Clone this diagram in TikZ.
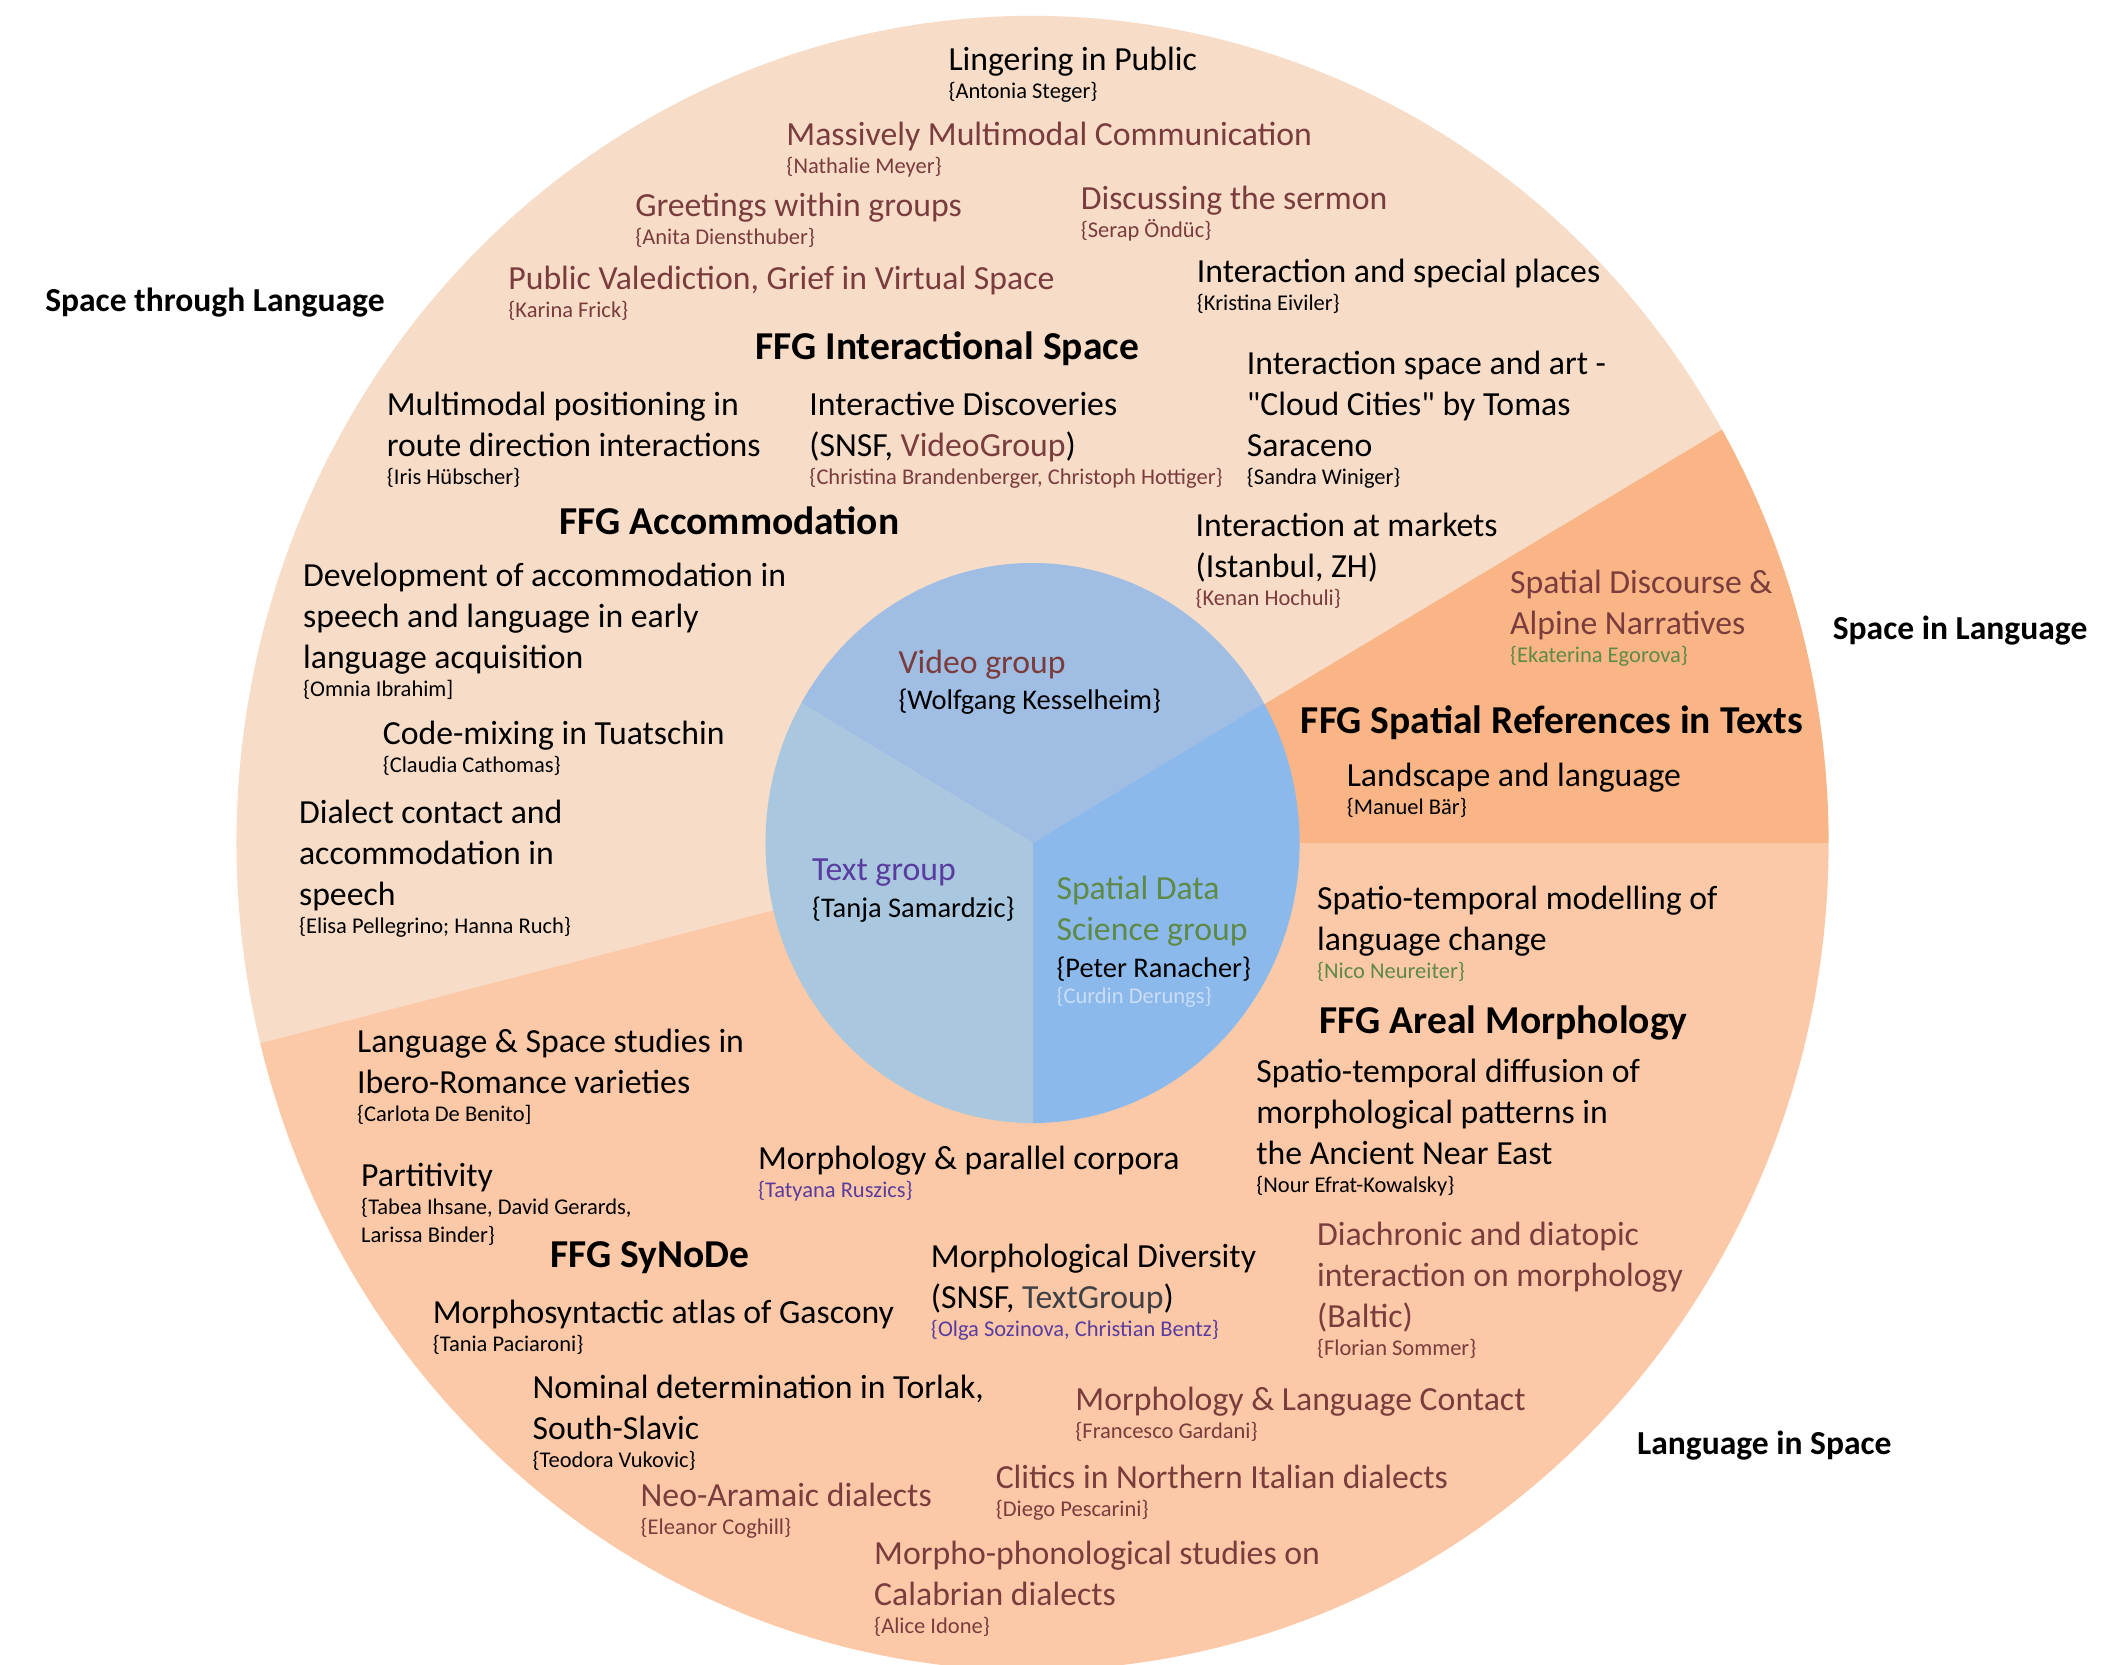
\documentclass[tikz,border=0pt]{standalone}
\usepackage{fontspec}
\setmainfont{Carlito}
\definecolor{ringL}{HTML}{F7DCC8}
\definecolor{ringM}{HTML}{FBC9A7}
\definecolor{ringD}{HTML}{F9B585}
\definecolor{pieV}{HTML}{A0BEE3}
\definecolor{pieT}{HTML}{A9C8DF}
\definecolor{pieS}{HTML}{8BB9EC}
\definecolor{redc}{HTML}{7A3C3C}
\definecolor{purplec}{HTML}{5A3CA0}
\definecolor{greenc}{HTML}{5E8A45}
\definecolor{lbluec}{HTML}{CADDF5}
\definecolor{grayc}{HTML}{3F3F46}
\newcommand\mainf{\fontsize{9.6pt}{11.67pt}\selectfont}
\newcommand\authf{\fontsize{6.4pt}{8pt}\selectfont}
\newcommand\grpf{\fontsize{8.1pt}{10pt}\selectfont}
\newcommand\headf{\fontsize{11.25pt}{13pt}\selectfont\bfseries}
\newcommand\lblf{\fontsize{9.55pt}{11.5pt}\selectfont\bfseries}
\newcommand\au[1]{\\[-3.7pt]{\authf #1}}
\begin{document}
\begin{tikzpicture}[x=0.0135cm,y=-0.0135cm,
  txt/.style={anchor=base west, align=left, inner sep=0pt, font=\mainf, text=black},
  rtxt/.style={txt, text=redc},
  hdr/.style={anchor=base west, inner sep=0pt, font=\headf, text=black},
  lbl/.style={anchor=base west, inner sep=0pt, font=\lblf, text=black}]
\useasboundingbox (0,0) rectangle (1568,1232.6);
\fill[white] (0,0) rectangle (1568,1232.6);
\clip (0,0) rectangle (1568,1232.6);
\coordinate (C) at (764.8,624.4);
% outer ring sectors
\fill[ringD] (C) -- ++(0:589.6 and 612.6) arc[start angle=0,end angle=-30,x radius=589.6,y radius=612.6] -- cycle;
\fill[ringL] (C) -- ++(-30:589.6 and 612.6) arc[start angle=-30,end angle=-194,x radius=589.6,y radius=612.6] -- cycle;
\fill[ringM] (C) -- ++(-194:589.6 and 612.6) arc[start angle=-194,end angle=-360,x radius=589.6,y radius=612.6] -- cycle;
% inner pie
\fill[pieV] (C) -- ++(-30:197.8 and 207.4) arc[start angle=-30,end angle=-150,x radius=197.8,y radius=207.4] -- cycle;
\fill[pieT] (C) -- ++(-150:197.8 and 207.4) arc[start angle=-150,end angle=-270,x radius=197.8,y radius=207.4] -- cycle;
\fill[pieS] (C) -- ++(-270:197.8 and 207.4) arc[start angle=-270,end angle=-390,x radius=197.8,y radius=207.4] -- cycle;

\node[lbl] (stl) at (33,230.5) {Space through Language};
\node[lbl] (sil) at (1357,474) {Space in Language};
\node[lbl] (lis) at (1212,1077.5) {Language in Space};

\node[txt] (lingering) at (702,73.25) {Lingering in Public\au{\{Antonia Steger\}}};
\node[rtxt] (massively) at (582,128.25) {Massively Multimodal Communication\au{\{Nathalie Meyer\}}};
\node[rtxt] (greetings) at (470,181.25) {Greetings within groups\au{\{Anita Diensthuber\}}};
\node[rtxt] (sermon) at (800,176.25) {Discussing the sermon\au{\{Serap Öndüc\}}};
\node[rtxt] (valediction) at (376,235.25) {Public Valediction, Grief in Virtual Space\au{\{Karina Frick\}}};
\node[txt] (special) at (886,230.25) {Interaction and special places\au{\{Kristina Eiviler\}}};
\node[hdr] (ffgIS) at (559,266.6) {FFG Interactional Space};
\node[txt] (multimodal) at (286,358.65) {Multimodal positioning in\\route direction interactions\au{\{Iris Hübscher\}}};
\node[txt] (discoveries) at (599,358.65) {Interactive Discoveries\\(SNSF, \textcolor{redc}{VideoGroup})\au{\color{redc}\{Christina Brandenberger, Christoph Hottiger\}}};
\node[txt] (art) at (923,359.05) {Interaction space and art -\\\textquotedbl Cloud Cities\textquotedbl{} by Tomas\\Saraceno\au{\{Sandra Winiger\}}};
\node[hdr] (ffgAcc) at (414,395.6) {FFG Accommodation};
\node[txt] (markets) at (885,448.65) {Interaction at markets\\(Istanbul, ZH)\au{\color{redc}\{Kenan Hochuli\}}};
\node[txt] (development) at (224,516.05) {Development of accommodation in\\speech and language in early\\language acquisition\au{\{Omnia Ibrahim]}};
\node[rtxt] (alpine) at (1118,490.65) {Spatial Discourse \&\\Alpine Narratives\au{\color{greenc}\{Ekaterina Egorova\}}};
\node[txt, text=redc] (video) at (665,525.5) {Video group\\[-1.3pt]{\grpf\color{black}\{Wolfgang Kesselheim\}}};
\node[hdr] (ffgSRT) at (963,543.6) {FFG Spatial References in Texts};
\node[txt] (tuatschin) at (283,572.25) {Code-mixing in Tuatschin\au{\{Claudia Cathomas\}}};
\node[txt] (landscape) at (997,603.25) {Landscape and language\au{\{Manuel Bär\}}};
\node[txt] (dialect) at (221,691.05) {Dialect contact and\\accommodation in\\speech\au{\{Elisa Pellegrino; Hanna Ruch\}}};
\node[txt, text=purplec] (textg) at (601,679.5) {Text group\\[-1.3pt]{\grpf\color{black}\{Tanja Samardzic\}}};
\node[txt, text=greenc] (spatialg) at (782,743.5) {Spatial Data\\Science group\\[-1.3pt]{\grpf\color{black}\{Peter Ranacher\}}\\[-4.15pt]{\authf\color{lbluec}\{Curdin Derungs\}}};
\node[txt] (modelling) at (975,724.65) {Spatio-temporal modelling of\\language change\au{\color{greenc}\{Nico Neureiter\}}};
\node[hdr] (ffgAM) at (977,765.6) {FFG Areal Morphology};
\node[txt] (ibero) at (264,830.65) {Language \& Space studies in\\Ibero-Romance varieties\au{\{Carlota De Benito]}};
\node[txt] (diffusion) at (930,883.05) {Spatio-temporal diffusion of\\morphological patterns in\\the Ancient Near East\au{\{Nour Efrat-Kowalsky\}}};
\node[txt] (parallel) at (561,887.25) {Morphology \& parallel corpora\au{\color{purplec}\{Tatyana Ruszics\}}};
\node[txt] (partitivity) at (267,920.25) {Partitivity\au{\{Tabea Ihsane, David Gerards,}\\[-3.6pt]{\authf Larissa Binder\}}};
\node[rtxt] (baltic) at (975,1004.05) {Diachronic and diatopic\\interaction on morphology\\(Baltic)\au{\{Florian Sommer\}}};
\node[hdr] (ffgSy) at (407,938.6) {FFG SyNoDe};
\node[txt] (diversity) at (689,989.65) {Morphological Diversity\\(SNSF, \textcolor{grayc}{TextGroup})\au{\color{purplec}\{Olga Sozinova, Christian Bentz\}}};
\node[txt] (gascony) at (320,1001.25) {Morphosyntactic atlas of Gascony\au{\{Tania Paciaroni\}}};
\node[txt] (torlak) at (394,1086.65) {Nominal determination in Torlak,\\South-Slavic\au{\{Teodora Vukovic\}}};
\node[rtxt] (contact) at (796,1065.25) {Morphology \& Language Contact\au{\{Francesco Gardani\}}};
\node[rtxt] (clitics) at (737,1123.25) {Clitics in Northern Italian dialects\au{\{Diego Pescarini\}}};
\node[rtxt] (aramaic) at (474,1136.25) {Neo-Aramaic dialects\au{\{Eleanor Coghill\}}};
\node[rtxt] (calabrian) at (647,1209.65) {Morpho-phonological studies on\\Calabrian dialects\au{\{Alice Idone\}}};
\end{tikzpicture}
\end{document}
